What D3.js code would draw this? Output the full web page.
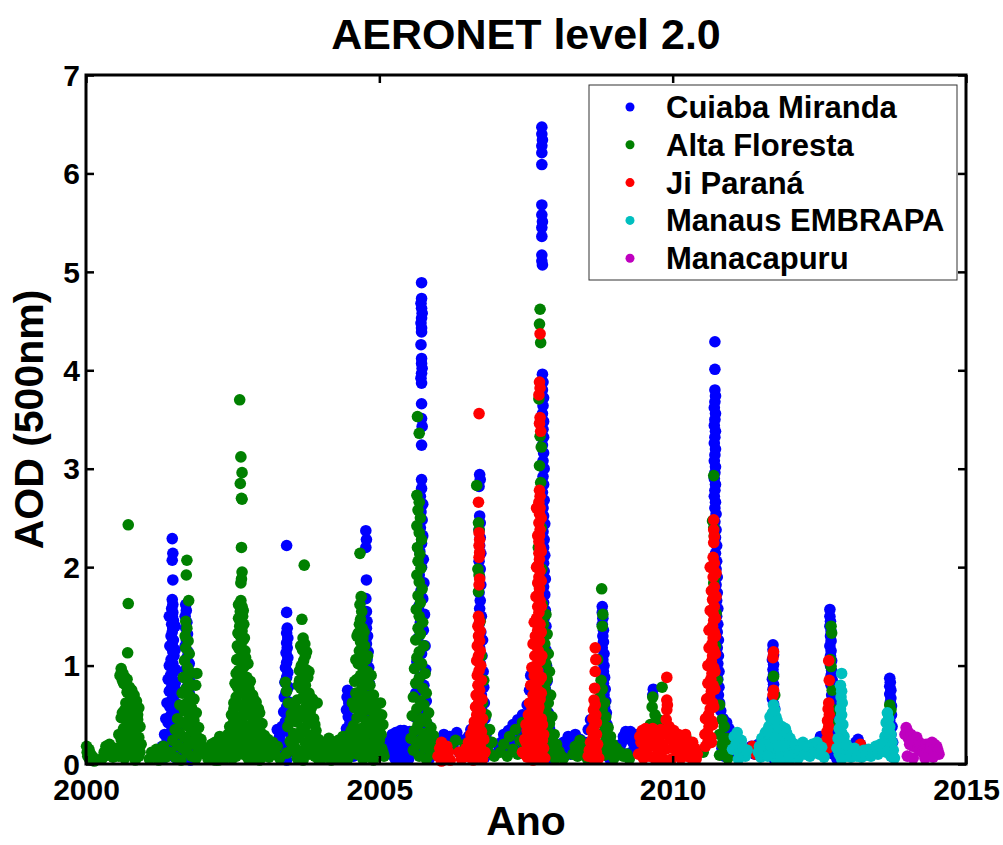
<!DOCTYPE html>
<html>
<head>
<meta charset="utf-8">
<script src="https://cdn.jsdelivr.net/npm/d3@7"></script>
<style>
  html, body { margin: 0; padding: 0; background: #fff; }
  svg { display: block; }
  text { font-family: "Liberation Sans", Arial, Helvetica, sans-serif; font-weight: bold; fill: #000; }
</style>
</head>
<body>
<svg id="chart" width="1003" height="845"></svg>
<script>
// AERONET level 2.0 aerosol optical depth (500 nm), daily observations per station.
// Each entry is [decimal year, AOD].

const xTicks = [2000, 2005, 2010, 2015];
const yTicks = [0, 1, 2, 3, 4, 5, 6, 7];
const stationNames = ["Cuiaba Miranda", "Alta Floresta", "Ji Paraná", "Manaus EMBRAPA", "Manacapuru"];

const cuiabaMiranda = [
  // 2001
  [2001.47,2.29],[2001.48,2.14],[2001.47,2.07],[2001.48,1.87],
  [2001.47,1.67],[2001.48,1.62],[2001.46,1.58],[2001.48,1.54],[2001.47,1.50],[2001.49,1.46],[2001.46,1.42],[2001.48,1.38],[2001.47,1.34],[2001.45,1.30],[2001.49,1.26],[2001.47,1.22],[2001.46,1.18],[2001.48,1.14],[2001.50,1.10],[2001.45,1.06],[2001.48,1.02],[2001.46,0.98],[2001.50,0.94],[2001.44,0.90],[2001.48,0.86],[2001.52,0.82],[2001.46,0.78],[2001.42,0.74],[2001.50,0.70],[2001.47,0.66],[2001.53,0.62],[2001.43,0.58],[2001.49,0.54],[2001.45,0.50],[2001.55,0.46],[2001.40,0.42],[2001.50,0.38],[2001.46,0.34],[2001.56,0.30],[2001.38,0.26],[2001.52,0.22],[2001.44,0.18],[2001.58,0.14],[2001.36,0.11],[2001.48,0.08],[2001.32,0.06],[2001.60,0.05],
  [2001.42,1.50],[2001.52,1.40],[2001.43,1.20],[2001.52,1.16],[2001.42,1.00],[2001.53,0.96],[2001.40,0.86],[2001.55,0.74],[2001.38,0.62],[2001.57,0.56],[2001.36,0.46],[2001.58,0.40],[2001.34,0.30],[2001.60,0.26],[2001.30,0.18],[2001.62,0.16],[2001.40,0.10],[2001.54,0.06],
  [2001.70,1.62],[2001.71,1.56],[2001.69,1.50],[2001.72,1.44],[2001.70,1.38],[2001.73,1.32],[2001.71,1.26],[2001.69,1.20],[2001.74,1.14],[2001.72,1.08],[2001.76,1.02],[2001.70,0.96],[2001.74,0.90],[2001.77,0.84],[2001.72,0.78],[2001.76,0.72],[2001.79,0.66],[2001.74,0.60],[2001.78,0.54],[2001.81,0.48],[2001.76,0.42],[2001.80,0.36],[2001.83,0.30],[2001.78,0.24],[2001.82,0.18],[2001.74,0.12],[2001.84,0.07],[2001.78,0.04],
  // 2003
  [2003.42,2.22],[2003.42,1.54],
  [2003.43,1.38],[2003.42,1.33],[2003.44,1.28],[2003.42,1.23],[2003.43,1.18],[2003.41,1.13],[2003.44,1.08],[2003.42,1.03],[2003.40,0.98],[2003.44,0.93],[2003.42,0.88],[2003.39,0.83],[2003.45,0.78],[2003.41,0.73],[2003.38,0.68],[2003.46,0.63],[2003.42,0.58],[2003.37,0.53],[2003.47,0.48],[2003.40,0.43],[2003.34,0.38],[2003.26,0.35],[2003.44,0.33],[2003.30,0.28],[2003.50,0.26],[2003.22,0.22],[2003.38,0.20],[2003.54,0.16],[2003.28,0.14],[2003.46,0.12],[2003.60,0.10],[2003.34,0.07],[2003.64,0.05],[2003.42,0.04],
  // 2004
  [2004.77,2.37],[2004.78,2.28],[2004.77,2.20],[2004.78,1.87],[2004.77,1.68],[2004.78,1.55],
  [2004.79,1.45],[2004.78,1.38],[2004.80,1.30],[2004.78,1.22],[2004.81,1.14],[2004.79,1.06],[2004.82,0.98],[2004.80,0.90],[2004.83,0.82],[2004.78,0.74],[2004.84,0.66],[2004.80,0.58],[2004.86,0.50],[2004.82,0.42],[2004.88,0.34],[2004.84,0.26],[2004.90,0.18],[2004.86,0.10],
  [2004.46,0.75],[2004.45,0.68],[2004.48,0.62],[2004.44,0.55],[2004.47,0.48],[2004.50,0.42],[2004.44,0.36],[2004.52,0.30],[2004.46,0.25],[2004.54,0.20],[2004.42,0.16],[2004.50,0.12],[2004.56,0.08],
  // 2005
  [2005.12,0.10],[2005.16,0.18],[2005.20,0.26],[2005.24,0.14],[2005.28,0.32],[2005.32,0.22],[2005.36,0.34],[2005.40,0.12],[2005.44,0.28],[2005.48,0.20],[2005.52,0.33],[2005.26,0.06],[2005.38,0.08],[2005.46,0.05],
  [2005.14,0.22],[2005.18,0.12],[2005.22,0.30],[2005.26,0.20],[2005.30,0.14],[2005.34,0.28],[2005.38,0.20],[2005.42,0.34],[2005.46,0.16],[2005.50,0.26],[2005.54,0.12],[2005.30,0.06],[2005.42,0.06],[2005.50,0.05],
  [2005.72,4.89],[2005.72,4.73],[2005.71,4.68],[2005.72,4.63],[2005.73,4.58],[2005.72,4.53],[2005.71,4.48],[2005.72,4.43],[2005.72,4.39],[2005.71,4.26],[2005.72,4.12],[2005.72,4.07],[2005.73,4.02],[2005.72,3.97],[2005.71,3.92],[2005.72,3.87],[2005.72,3.66],[2005.72,3.51],[2005.73,3.43],[2005.72,3.24],[2005.72,2.89],
  [2005.72,2.80],[2005.70,2.72],[2005.74,2.64],[2005.71,2.56],[2005.73,2.48],[2005.70,2.40],[2005.74,2.32],[2005.72,2.24],[2005.69,2.16],[2005.75,2.08],[2005.72,2.00],[2005.68,1.92],[2005.76,1.84],[2005.71,1.76],[2005.74,1.68],[2005.67,1.60],[2005.77,1.52],[2005.70,1.44],[2005.75,1.36],[2005.66,1.28],[2005.78,1.20],[2005.72,1.12],[2005.64,1.04],[2005.79,0.96],[2005.69,0.88],[2005.76,0.80],[2005.62,0.72],[2005.80,0.64],[2005.70,0.56],[2005.60,0.48],[2005.82,0.40],[2005.74,0.34],[2005.58,0.28],[2005.84,0.22],[2005.66,0.16],[2005.78,0.10],[2005.86,0.06],
  // 2006
  [2005.92,0.15],[2005.96,0.26],[2006.00,0.10],[2006.04,0.22],[2006.10,0.30],[2006.16,0.14],[2006.20,0.28],[2006.26,0.20],[2006.32,0.32],[2006.36,0.12],[2006.42,0.24],[2006.48,0.18],[2006.52,0.28],[2006.56,0.35],
  [2006.71,2.94],[2006.72,2.89],[2006.70,2.82],[2006.71,2.52],[2006.72,2.45],[2006.70,2.38],[2006.72,2.30],[2006.71,2.22],[2006.73,2.14],[2006.70,2.06],[2006.72,1.98],[2006.71,1.90],[2006.73,1.82],[2006.70,1.74],[2006.72,1.66],[2006.71,1.58],[2006.74,1.50],[2006.70,1.42],[2006.73,1.34],[2006.76,1.26],[2006.71,1.18],[2006.75,1.10],[2006.72,1.02],[2006.77,0.94],[2006.73,0.86],[2006.78,0.78],[2006.74,0.70],[2006.79,0.62],[2006.75,0.54],[2006.80,0.46],[2006.76,0.38],[2006.82,0.30],[2006.78,0.22],[2006.84,0.14],[2006.80,0.07],
  // 2007
  [2007.04,0.15],[2007.08,0.22],[2007.12,0.30],[2007.16,0.18],[2007.20,0.34],[2007.24,0.26],[2007.28,0.40],[2007.32,0.20],[2007.36,0.45],[2007.40,0.32],[2007.44,0.50],[2007.48,0.38],[2007.52,0.60],[2007.56,0.75],[2007.58,0.90],
  [2007.77,6.47],[2007.77,6.40],[2007.78,6.34],[2007.77,6.28],[2007.77,6.21],[2007.77,6.09],[2007.77,5.68],[2007.77,5.58],[2007.78,5.51],[2007.77,5.45],[2007.77,5.36],[2007.77,5.17],[2007.77,5.11],[2007.78,5.07],
  [2007.78,3.96],[2007.79,3.88],[2007.78,3.80],[2007.80,3.72],[2007.79,3.64],[2007.78,3.56],[2007.80,3.48],[2007.79,3.40],[2007.80,3.32],[2007.78,3.24],[2007.80,3.16],[2007.79,3.08],[2007.81,3.00],[2007.79,2.92],[2007.80,2.84],[2007.78,2.76],[2007.81,2.68],[2007.79,2.60],[2007.80,2.52],[2007.82,2.44],[2007.79,2.36],[2007.81,2.28],[2007.80,2.20],[2007.82,2.12],[2007.80,2.04],[2007.81,1.96],[2007.83,1.88],[2007.80,1.80],[2007.82,1.72],[2007.80,1.64],[2007.83,1.56],[2007.81,1.48],[2007.84,1.40],[2007.82,1.32],[2007.80,1.24],[2007.84,1.16],[2007.82,1.08],[2007.85,1.00],[2007.82,0.92],[2007.86,0.84],[2007.83,0.76],[2007.87,0.68],[2007.84,0.60],[2007.88,0.52],[2007.85,0.44],[2007.90,0.36],[2007.86,0.28],[2007.92,0.20],[2007.88,0.12],[2007.94,0.06],
  // 2008
  [2008.02,0.10],[2008.06,0.18],[2008.10,0.12],[2008.14,0.22],[2008.18,0.15],[2008.22,0.28],[2008.26,0.10],[2008.30,0.20],[2008.34,0.30],[2008.38,0.16],[2008.42,0.25],[2008.46,0.12],[2008.50,0.22],[2008.56,0.35],[2008.60,0.45],
  [2008.80,1.60],[2008.80,1.54],[2008.81,1.48],[2008.80,1.42],[2008.82,1.36],[2008.81,1.30],[2008.82,1.24],[2008.80,1.18],[2008.83,1.12],[2008.81,1.06],[2008.83,1.00],[2008.82,0.94],[2008.84,0.88],[2008.82,0.82],[2008.85,0.76],[2008.83,0.70],[2008.86,0.64],[2008.84,0.58],[2008.87,0.52],[2008.85,0.46],[2008.88,0.40],[2008.86,0.34],[2008.89,0.28],[2008.86,0.22],[2008.90,0.16],[2008.88,0.10],[2008.92,0.06],
  // 2009
  [2009.12,0.20],[2009.16,0.28],[2009.20,0.33],[2009.24,0.26],[2009.28,0.33],[2009.32,0.22],[2009.36,0.30],[2009.40,0.18],[2009.44,0.25],[2009.30,0.12],[2009.20,0.10],
  [2009.67,0.76],[2009.66,0.70],
  // 2010
  [2010.72,4.29],[2010.72,4.01],[2010.72,3.80],[2010.73,3.74],[2010.72,3.68],[2010.71,3.62],[2010.73,3.56],[2010.72,3.50],[2010.71,3.44],[2010.73,3.38],[2010.72,3.32],[2010.71,3.26],[2010.73,3.20],[2010.72,3.14],[2010.71,3.08],[2010.73,3.02],[2010.72,2.96],[2010.71,2.90],[2010.73,2.84],[2010.72,2.78],[2010.71,2.72],[2010.73,2.66],[2010.72,2.60],[2010.74,2.54],[2010.72,2.46],[2010.74,2.38],[2010.73,2.30],[2010.75,2.22],[2010.73,2.14],[2010.75,2.06],[2010.74,1.98],[2010.76,1.90],[2010.74,1.82],[2010.76,1.74],[2010.75,1.66],[2010.77,1.58],[2010.75,1.50],[2010.77,1.42],[2010.76,1.34],[2010.78,1.26],[2010.76,1.18],[2010.78,1.10],[2010.77,1.02],[2010.79,0.94],[2010.77,0.86],[2010.79,0.78],[2010.78,0.70],[2010.80,0.62],[2010.82,0.54],[2010.86,0.46],[2010.92,0.42],[2010.96,0.36],[2010.90,0.30],[2010.94,0.22],[2010.84,0.16],[2010.98,0.12],[2010.88,0.08],
  // 2011
  [2011.28,0.12],[2011.34,0.18],[2011.40,0.10],[2011.46,0.20],[2011.52,0.14],[2011.56,0.24],[2011.60,0.30],
  [2011.71,1.21],[2011.71,1.16],[2011.72,1.11],[2011.70,1.06],[2011.72,1.01],[2011.71,0.96],[2011.72,0.91],[2011.70,0.86],[2011.72,0.81],[2011.71,0.76],[2011.73,0.71],[2011.70,0.66],[2011.72,0.61],[2011.74,0.56],[2011.70,0.50],[2011.76,0.44],[2011.68,0.38],[2011.74,0.30],[2011.66,0.22],[2011.78,0.14],[2011.72,0.06],
  // 2012
  [2012.10,0.08],[2012.30,0.15],[2012.44,0.20],[2012.52,0.28],
  [2012.68,1.57],[2012.68,1.50],[2012.69,1.45],[2012.68,1.40],[2012.70,1.35],[2012.69,1.30],[2012.70,1.25],[2012.68,1.20],[2012.70,1.15],[2012.69,1.10],[2012.71,1.05],[2012.69,1.00],[2012.71,0.95],[2012.70,0.90],[2012.72,0.85],[2012.70,0.80],[2012.73,0.75],[2012.71,0.70],[2012.74,0.64],[2012.72,0.58],[2012.75,0.50],[2012.72,0.42],[2012.76,0.34],[2012.73,0.26],[2012.78,0.18],[2012.74,0.10],[2012.80,0.05],
  // 2013
  [2013.12,0.22],[2013.16,0.25],[2013.20,0.20],[2013.24,0.16],[2013.30,0.12],
  [2013.70,0.87],[2013.71,0.83],[2013.70,0.79],[2013.72,0.75],[2013.70,0.71],[2013.72,0.67],[2013.71,0.63],[2013.73,0.59],[2013.71,0.55],[2013.73,0.50],[2013.70,0.44],[2013.74,0.38],[2013.72,0.30],[2013.75,0.22],[2013.70,0.14],[2013.76,0.07]
];

const altaFloresta = [
  // 2000
  [2000.01,0.18],[2000.02,0.12],[2000.03,0.08],[2000.05,0.15],[2000.06,0.05],[2000.08,0.10],[2000.10,0.04],[2000.12,0.07],[2000.14,0.03],
  [2000.28,0.06],[2000.31,0.12],[2000.34,0.18],[2000.37,0.09],[2000.40,0.20],[2000.43,0.14],[2000.46,0.07],[2000.49,0.16],[2000.51,0.10],
  [2000.72,2.43],[2000.72,1.63],[2000.71,1.13],
  [2000.60,0.97],[2000.63,0.92],[2000.66,0.88],[2000.62,0.85],[2000.68,0.80],[2000.74,0.78],[2000.70,0.73],[2000.78,0.75],[2000.82,0.70],[2000.76,0.66],[2000.86,0.64],[2000.72,0.60],[2000.80,0.58],[2000.90,0.57],[2000.66,0.55],[2000.84,0.52],[2000.74,0.50],[2000.60,0.47],[2000.88,0.45],[2000.78,0.42],[2000.70,0.40],[2000.92,0.38],[2000.64,0.36],[2000.84,0.33],[2000.56,0.30],[2000.74,0.30],[2000.90,0.27],[2000.60,0.25],[2000.80,0.24],[2000.68,0.21],[2000.94,0.20],[2000.58,0.17],[2000.86,0.16],[2000.72,0.14],[2000.62,0.11],[2000.78,0.10],[2000.90,0.08],[2000.66,0.06],[2000.84,0.04],
  [2000.58,0.90],[2000.64,0.82],[2000.70,0.86],[2000.76,0.70],[2000.80,0.64],[2000.68,0.62],[2000.88,0.50],[2000.62,0.52],[2000.72,0.44],[2000.82,0.38],[2000.66,0.30],[2000.86,0.22],[2000.76,0.18],[2000.92,0.12],[2000.56,0.08],
  // 2001
  [2001.08,0.05],[2001.12,0.12],[2001.16,0.08],[2001.20,0.15],[2001.24,0.04],[2001.28,0.10],[2001.32,0.18],[2001.36,0.07],
  [2001.72,2.07],[2001.71,1.92],[2001.75,1.66],[2001.89,0.92],[2001.87,0.80],
  [2001.70,1.45],[2001.72,1.38],[2001.69,1.30],[2001.74,1.25],[2001.70,1.18],[2001.76,1.12],[2001.68,1.05],[2001.73,0.98],[2001.78,0.93],[2001.66,0.88],[2001.74,0.84],[2001.80,0.80],[2001.70,0.76],[2001.64,0.72],[2001.77,0.69],[2001.84,0.66],[2001.72,0.62],[2001.60,0.60],[2001.80,0.57],[2001.68,0.54],[2001.88,0.52],[2001.76,0.49],[2001.56,0.46],[2001.84,0.44],[2001.64,0.42],[2001.72,0.39],[2001.92,0.37],[2001.52,0.35],[2001.80,0.33],[2001.60,0.31],[2001.88,0.29],[2001.68,0.27],[2001.96,0.25],[2001.48,0.24],[2001.76,0.22],[2001.84,0.20],[2001.56,0.19],[2002.00,0.17],[2001.64,0.16],[2001.92,0.14],[2001.44,0.12],[2001.72,0.12],[2002.04,0.10],[2001.80,0.08],[2001.52,0.07],[2001.88,0.06],[2001.62,0.04],[2002.08,0.05],
  // 2002
  [2002.12,0.08],[2002.16,0.15],[2002.20,0.22],[2002.24,0.10],[2002.28,0.28],[2002.32,0.16],[2002.36,0.05],[2002.40,0.24],[2002.44,0.12],[2002.48,0.32],[2002.20,0.04],[2002.30,0.07],[2002.52,0.45],[2002.45,0.38],
  [2002.14,0.20],[2002.18,0.10],[2002.22,0.15],[2002.26,0.04],[2002.34,0.22],[2002.38,0.14],[2002.42,0.30],[2002.46,0.20],[2002.50,0.06],
  [2002.62,3.70],[2002.64,3.12],[2002.66,2.96],[2002.63,2.85],[2002.65,2.70],[2002.66,2.69],[2002.65,2.20],[2002.66,1.95],[2002.65,1.88],[2002.64,1.84],
  [2002.64,1.66],[2002.66,1.60],[2002.63,1.55],[2002.67,1.50],[2002.64,1.45],[2002.62,1.40],[2002.66,1.35],[2002.63,1.30],[2002.68,1.26],[2002.64,1.21],[2002.61,1.17],[2002.67,1.12],[2002.72,1.08],[2002.63,1.05],[2002.76,1.02],[2002.68,0.98],[2002.60,0.95],[2002.66,0.91],[2002.74,0.88],[2002.62,0.85],[2002.70,0.81],[2002.58,0.78],[2002.78,0.76],[2002.66,0.72],[2002.84,0.70],[2002.56,0.68],[2002.74,0.65],[2002.90,0.63],[2002.62,0.60],[2002.82,0.58],[2002.52,0.56],[2002.70,0.54],[2002.96,0.52],[2002.78,0.50],[2002.58,0.47],[2002.88,0.45],[2002.66,0.43],[2003.00,0.41],[2002.50,0.39],[2002.76,0.38],[2002.92,0.35],[2002.60,0.33],[2002.84,0.31],[2003.04,0.29],[2002.70,0.27],[2002.54,0.25],[2002.96,0.24],[2002.80,0.22],[2002.64,0.20],[2003.08,0.18],[2002.88,0.17],[2002.58,0.15],[2002.74,0.13],[2003.00,0.12],[2002.68,0.10],[2002.92,0.08],[2003.12,0.07],[2002.82,0.05],
  [2002.60,1.62],[2002.68,1.56],[2002.60,1.48],[2002.69,1.42],[2002.59,1.33],[2002.70,1.28],[2002.58,1.20],[2002.71,1.15],[2002.57,1.06],[2002.70,1.00],[2002.56,0.92],[2002.80,0.84],[2002.54,0.82],[2002.72,0.74],[2002.86,0.66],[2002.52,0.62],[2002.66,0.58],[2002.94,0.56],[2002.48,0.50],[2002.62,0.48],[2002.84,0.42],[2002.70,0.34],[2002.98,0.32],[2002.46,0.28],[2002.76,0.24],[2002.90,0.20],[2002.50,0.18],[2002.66,0.14],[2002.84,0.12],[2003.06,0.10],[2002.56,0.08],[2002.76,0.06],[2002.96,0.04],
  // 2003
  [2003.14,0.15],[2003.18,0.22],[2003.22,0.10],[2003.26,0.18],[2003.30,0.06],[2003.10,0.25],
  [2003.72,2.02],[2003.68,1.47],[2003.94,0.62],
  [2003.70,1.28],[2003.73,1.22],[2003.69,1.16],[2003.74,1.10],[2003.71,1.05],[2003.67,1.00],[2003.75,0.96],[2003.70,0.92],[2003.78,0.88],[2003.64,0.85],[2003.40,0.83],[2003.74,0.80],[2003.66,0.77],[2003.42,0.74],[2003.80,0.72],[2003.70,0.68],[2003.60,0.65],[2003.45,0.62],[2003.76,0.60],[2003.84,0.57],[2003.66,0.54],[2003.50,0.51],[2003.72,0.48],[2003.88,0.46],[2003.58,0.43],[2003.78,0.41],[2003.44,0.38],[2003.68,0.36],[2003.92,0.34],[2003.54,0.31],[2003.82,0.29],[2003.62,0.27],[2003.96,0.25],[2003.48,0.23],[2003.74,0.21],[2003.86,0.19],[2003.56,0.17],[2004.00,0.15],[2003.66,0.13],[2003.42,0.11],[2003.80,0.10],[2003.90,0.08],[2003.60,0.06],[2003.70,0.04],
  [2003.66,1.20],[2003.76,1.14],[2003.64,0.95],[2003.80,0.94],[2003.62,0.80],[2003.72,0.74],[2003.86,0.66],[2003.56,0.58],[2003.82,0.52],[2003.62,0.46],[2003.48,0.44],[2003.90,0.40],[2003.74,0.32],[2003.58,0.26],[2003.94,0.20],[2003.76,0.16],[2003.50,0.14],[2003.86,0.12],[2003.64,0.08],[2003.96,0.05],
  // 2004
  [2004.04,0.12],[2004.08,0.18],[2004.12,0.07],[2004.16,0.14],[2004.20,0.09],[2004.24,0.20],[2004.28,0.05],[2004.32,0.13],[2004.36,0.17],[2004.40,0.08],[2004.44,0.22],[2004.48,0.11],
  [2004.02,0.06],[2004.06,0.22],[2004.10,0.14],[2004.14,0.26],[2004.18,0.04],[2004.22,0.12],[2004.26,0.16],[2004.30,0.24],[2004.34,0.06],[2004.38,0.28],[2004.42,0.14],[2004.46,0.05],[2004.50,0.30],[2004.54,0.18],
  [2004.67,2.14],
  [2004.69,1.70],[2004.67,1.62],[2004.70,1.55],[2004.68,1.47],[2004.66,1.42],[2004.71,1.38],[2004.64,1.33],[2004.72,1.28],[2004.68,1.24],[2004.75,1.20],[2004.66,1.15],[2004.70,1.10],[2004.77,1.06],[2004.64,1.02],[2004.72,0.98],[2004.80,0.94],[2004.68,0.90],[2004.62,0.86],[2004.76,0.83],[2004.84,0.80],[2004.70,0.76],[2004.60,0.72],[2004.80,0.69],[2004.66,0.66],[2004.88,0.63],[2004.74,0.60],[2004.58,0.57],[2004.84,0.55],[2004.70,0.52],[2004.92,0.49],[2004.62,0.47],[2004.78,0.44],[2004.88,0.41],[2004.56,0.39],[2004.72,0.37],[2004.96,0.35],[2004.82,0.32],[2004.64,0.30],[2004.92,0.28],[2004.74,0.26],[2005.00,0.24],[2004.58,0.22],[2004.86,0.20],[2004.68,0.18],[2005.04,0.16],[2004.78,0.14],[2004.94,0.12],[2004.62,0.10],[2005.08,0.08],[2004.84,0.07],[2004.72,0.05],
  [2004.62,1.30],[2004.74,1.34],[2004.60,1.06],[2004.80,1.10],[2004.58,0.84],[2004.86,0.90],[2004.90,0.70],[2004.54,0.62],[2004.94,0.58],[2004.66,0.50],[2004.98,0.44],[2004.52,0.34],[2004.86,0.36],[2005.02,0.30],[2004.70,0.22],[2004.54,0.14],[2004.98,0.18],[2004.80,0.10],[2004.90,0.04],[2005.06,0.12],
  [2005.02,0.62],[2005.04,0.50],[2005.06,0.40],[2005.03,0.30],
  // 2005
  [2005.65,3.53],[2005.68,3.36],
  [2005.64,2.73],[2005.68,2.66],[2005.66,2.58],[2005.70,2.50],[2005.64,2.42],[2005.68,2.35],[2005.72,2.28],[2005.65,2.20],[2005.69,2.13],[2005.66,2.06],[2005.71,1.99],[2005.64,1.92],[2005.68,1.85],[2005.73,1.78],[2005.66,1.71],[2005.70,1.64],[2005.63,1.57],[2005.68,1.50],[2005.74,1.44],[2005.66,1.38],[2005.70,1.32],[2005.62,1.26],[2005.76,1.20],[2005.68,1.14],[2005.64,1.08],[2005.72,1.02],[2005.60,0.97],[2005.78,0.92],[2005.68,0.87],[2005.62,0.82],[2005.74,0.77],[2005.80,0.72],[2005.58,0.68],[2005.70,0.64],[2005.76,0.60],[2005.64,0.56],[2005.84,0.52],[2005.56,0.49],[2005.72,0.46],[2005.80,0.43],[2005.66,0.40],[2005.88,0.37],[2005.60,0.34],[2005.76,0.31],[2005.92,0.29],[2005.54,0.26],[2005.70,0.24],[2005.84,0.22],[2005.64,0.20],[2005.96,0.18],[2005.78,0.16],[2005.58,0.14],[2006.00,0.12],[2005.88,0.10],[2005.68,0.08],[2006.06,0.07],[2005.80,0.05],[2006.12,0.06],
  // 2006
  [2006.22,0.18],[2006.30,0.24],[2006.38,0.12],[2006.46,0.20],[2006.52,0.15],
  [2006.66,2.83],[2006.69,2.45],[2006.70,2.38],[2006.68,1.98],[2006.70,1.92],[2006.69,1.75],[2006.72,1.45],[2006.74,1.10],[2006.78,0.85],[2006.76,0.62],[2006.82,0.50],[2006.74,0.42],[2006.88,0.35],[2006.80,0.28],[2006.92,0.22],[2006.76,0.16],[2006.86,0.12],[2006.96,0.08],[2006.58,0.20],[2006.54,0.10],
  // 2007
  [2007.06,0.12],[2007.12,0.20],[2007.18,0.08],[2007.22,0.28],[2007.28,0.15],[2007.32,0.35],[2007.36,0.10],[2007.40,0.24],[2007.44,0.42],[2007.48,0.18],[2007.52,0.30],
  [2007.74,4.62],[2007.73,4.47],[2007.75,4.28],[2007.72,3.71],[2007.74,3.33],[2007.76,3.22],[2007.73,3.03],[2007.75,2.86],[2007.72,2.62],[2007.76,2.40],[2007.71,2.20],[2007.77,1.98],[2007.73,1.80],[2007.78,1.62],[2007.84,1.52],[2007.80,1.42],[2007.86,1.32],[2007.82,1.22],[2007.88,1.12],[2007.84,1.02],[2007.90,0.94],[2007.86,0.86],[2007.82,0.78],[2007.92,0.70],[2007.88,0.62],[2007.84,0.55],[2007.94,0.48],[2007.90,0.41],[2007.86,0.35],[2007.98,0.30],[2007.92,0.25],[2008.02,0.20],[2007.88,0.16],[2008.06,0.13],[2007.96,0.10],[2008.10,0.08],[2008.00,0.05],[2008.14,0.06],
  // 2008
  [2008.30,0.10],[2008.34,0.18],[2008.38,0.08],[2008.42,0.24],[2008.46,0.14],[2008.50,0.20],[2008.54,0.06],
  [2008.79,1.78],[2008.81,1.52],[2008.80,1.40],[2008.72,1.06],[2008.78,0.85],[2008.80,0.76],[2008.76,0.68],[2008.84,0.62],[2008.80,0.55],[2008.86,0.48],[2008.78,0.42],[2008.90,0.37],[2008.82,0.32],[2008.94,0.28],[2008.86,0.24],[2008.98,0.20],[2008.76,0.18],[2009.04,0.16],[2008.90,0.13],[2009.10,0.12],[2008.84,0.09],[2009.16,0.08],[2009.00,0.06],[2009.22,0.10],[2009.26,0.05],
  // 2009
  [2009.65,0.58],[2009.66,0.68],[2009.82,0.78],[2009.70,0.50],[2009.76,0.45],[2009.62,0.40],[2009.86,0.42],[2009.58,0.30],[2009.90,0.35],[2010.12,0.27],[2010.18,0.22],[2010.24,0.25],[2010.30,0.20],[2010.36,0.15],[2009.50,0.12],
  // 2010
  [2010.70,2.93],[2010.68,2.47],[2010.70,2.40],[2010.71,2.32],[2010.72,1.90],[2010.70,1.84],[2010.74,1.53],[2010.73,1.20],[2010.76,0.85],[2010.80,0.60],[2010.84,0.45],[2010.88,0.38],[2010.80,0.30],[2010.92,0.26],[2010.84,0.20],[2010.96,0.16],[2010.88,0.12],[2010.80,0.09],[2010.94,0.06],[2010.52,0.12],
  // 2011-2013
  [2011.72,0.89],[2011.74,0.70],
  [2012.70,1.40],[2012.71,1.33],[2012.69,1.06],[2012.70,0.99],[2012.72,0.75],[2012.74,0.55],[2012.76,0.40],
  [2013.70,0.60],[2013.72,0.55],[2013.68,0.50]
];

const jiParana = [
  // 2006
  [2006.00,0.08],[2006.03,0.16],[2006.06,0.22],[2006.09,0.10],[2006.12,0.05],[2006.15,0.18],[2006.18,0.12],[2006.21,0.04],[2006.06,0.03],
  [2006.70,3.56],[2006.69,2.66],[2006.70,2.35],[2006.71,2.28],[2006.70,2.22],[2006.71,2.15],[2006.70,2.10],[2006.71,1.88],[2006.70,1.82],
  [2006.69,1.50],[2006.71,1.45],[2006.68,1.40],[2006.72,1.35],[2006.69,1.30],[2006.71,1.25],[2006.67,1.20],[2006.72,1.15],[2006.69,1.10],[2006.66,1.05],[2006.73,1.00],[2006.70,0.95],[2006.67,0.90],[2006.74,0.85],[2006.68,0.80],[2006.71,0.75],[2006.65,0.70],[2006.75,0.66],[2006.69,0.62],[2006.64,0.58],[2006.72,0.54],[2006.66,0.50],[2006.76,0.46],[2006.62,0.43],[2006.70,0.40],[2006.60,0.36],[2006.74,0.33],[2006.56,0.30],[2006.66,0.27],[2006.78,0.25],[2006.52,0.22],[2006.62,0.20],[2006.72,0.18],[2006.48,0.16],[2006.58,0.14],[2006.80,0.12],[2006.44,0.10],[2006.68,0.09],[2006.54,0.07],[2006.40,0.05],[2006.76,0.05],[2006.36,0.12],[2006.60,0.04],
  // 2007
  [2007.44,0.12],[2007.48,0.25],[2007.50,0.40],
  [2007.74,4.37],[2007.73,3.88],[2007.74,3.82],[2007.72,3.75],[2007.74,3.52],[2007.73,3.46],[2007.75,3.38],
  [2007.73,2.78],[2007.74,2.72],[2007.72,2.66],[2007.74,2.60],[2007.73,2.54],[2007.72,2.45],[2007.74,2.38],[2007.73,2.32],[2007.72,2.26],[2007.74,2.20],[2007.72,2.14],[2007.73,2.08],[2007.71,2.02],[2007.74,1.96],[2007.72,1.90],[2007.70,1.84],[2007.73,1.78],[2007.71,1.72],[2007.74,1.66],[2007.70,1.60],[2007.72,1.54],[2007.68,1.48],[2007.74,1.42],[2007.70,1.36],[2007.66,1.30],[2007.73,1.25],[2007.68,1.20],[2007.71,1.15],[2007.65,1.10],[2007.74,1.05],[2007.67,1.00],[2007.70,0.95],[2007.64,0.90],[2007.73,0.85],[2007.66,0.80],[2007.70,0.75],[2007.62,0.70],[2007.74,0.66],[2007.66,0.62],[2007.60,0.58],[2007.70,0.54],[2007.64,0.50],[2007.76,0.46],[2007.58,0.42],[2007.68,0.39],[2007.62,0.36],[2007.74,0.33],[2007.56,0.30],[2007.66,0.27],[2007.78,0.24],[2007.60,0.22],[2007.70,0.19],[2007.54,0.17],[2007.64,0.15],[2007.76,0.13],[2007.58,0.11],[2007.68,0.09],[2007.52,0.07],[2007.72,0.05],[2007.62,0.04],
  [2007.68,2.60],[2007.76,2.50],[2007.70,2.32],[2007.76,2.16],[2007.68,2.00],[2007.76,1.86],[2007.67,1.70],[2007.76,1.60],[2007.64,1.44],[2007.76,1.34],[2007.62,1.22],[2007.77,1.10],[2007.60,0.98],[2007.76,0.88],[2007.58,0.80],[2007.76,0.72],[2007.56,0.62],[2007.72,0.58],[2007.54,0.50],[2007.78,0.40],[2007.52,0.34],[2007.80,0.30],[2007.50,0.22],[2007.80,0.16],[2007.48,0.10],[2007.82,0.06],
  // 2008
  [2008.68,1.18],[2008.69,1.06],[2008.68,0.94],[2008.67,0.77],[2008.66,0.65],[2008.68,0.60],[2008.65,0.55],[2008.69,0.50],[2008.64,0.46],[2008.70,0.42],[2008.66,0.38],[2008.62,0.34],[2008.70,0.30],[2008.64,0.26],[2008.60,0.22],[2008.72,0.20],[2008.66,0.17],[2008.58,0.14],[2008.70,0.12],[2008.62,0.10],[2008.56,0.08],[2008.74,0.06],[2008.66,0.05],
  // 2009-2010
  [2009.42,0.10],[2009.46,0.22],[2009.48,0.34],[2009.52,0.15],[2009.54,0.36],[2009.58,0.26],[2009.60,0.08],[2009.64,0.30],[2009.68,0.18],[2009.72,0.34],[2009.76,0.12],[2009.78,0.28],[2009.82,0.20],[2009.86,0.32],[2009.89,0.45],[2009.90,0.55],[2009.91,0.60],[2009.90,0.65],[2009.90,0.88],[2009.94,0.38],[2009.96,0.25],[2010.00,0.16],[2010.04,0.28],[2010.08,0.10],[2010.12,0.20],[2010.16,0.12],[2010.20,0.24],[2010.24,0.08],[2010.28,0.16],[2010.32,0.06],[2010.36,0.12],[2010.40,0.05],[2009.84,0.05],[2009.70,0.05],[2009.98,0.05],
  [2009.44,0.28],[2009.50,0.06],[2009.56,0.18],[2009.62,0.22],[2009.66,0.36],[2009.70,0.26],[2009.74,0.08],[2009.80,0.35],[2009.88,0.15],[2009.92,0.30],[2010.02,0.34],[2010.06,0.20],[2010.10,0.30],[2010.14,0.06],[2010.18,0.16],[2010.22,0.30],[2010.26,0.20],[2010.30,0.10],[2010.34,0.22],[2010.38,0.16],[2010.42,0.10],
  // 2010
  [2010.70,2.48],[2010.70,2.38],[2010.71,2.31],[2010.70,2.25],[2010.69,2.10],[2010.71,2.04],[2010.70,1.97],[2010.69,1.90],[2010.71,1.80],[2010.70,1.74],[2010.68,1.67],[2010.71,1.60],[2010.69,1.53],[2010.70,1.46],[2010.68,1.40],[2010.71,1.34],[2010.69,1.28],[2010.67,1.22],[2010.70,1.16],[2010.68,1.10],[2010.66,1.04],[2010.70,0.98],[2010.67,0.92],[2010.65,0.86],[2010.69,0.80],[2010.66,0.74],[2010.63,0.68],[2010.68,0.62],[2010.64,0.56],[2010.61,0.50],[2010.66,0.44],[2010.62,0.38],[2010.59,0.32],[2010.65,0.27],[2010.60,0.22],[2010.56,0.18],
  [2010.64,2.00],[2010.74,1.94],[2010.66,1.76],[2010.74,1.70],[2010.64,1.56],[2010.73,1.48],[2010.62,1.36],[2010.73,1.30],[2010.62,1.18],[2010.73,1.12],[2010.60,1.00],[2010.72,0.94],[2010.60,0.82],[2010.72,0.76],[2010.58,0.66],[2010.70,0.58],[2010.56,0.46],[2010.68,0.40],[2010.55,0.30],[2010.66,0.22],
  // 2011
  [2011.30,0.12],[2011.36,0.18],[2011.42,0.10],[2011.48,0.15],[2011.72,1.14],[2011.71,1.08],[2011.72,0.75],[2011.71,0.70],[2011.70,0.48],
  // 2012-2013
  [2012.66,1.05],[2012.67,0.85],[2012.66,0.62],[2012.65,0.56],[2012.67,0.50],[2012.64,0.44],[2012.66,0.38],[2012.63,0.33],[2012.65,0.28],[2012.62,0.24],[2012.66,0.20],[2012.64,0.16],
  [2013.20,0.20]
];

const manausEmbrapa = [
  // 2011
  [2011.02,0.15],[2011.05,0.28],[2011.08,0.20],[2011.10,0.32],[2011.14,0.10],[2011.17,0.24],[2011.20,0.16],[2011.24,0.08],[2011.12,0.05],[2011.27,0.14],
  [2011.72,0.60],[2011.74,0.55],[2011.70,0.52],[2011.76,0.48],[2011.68,0.45],[2011.72,0.42],[2011.80,0.40],[2011.64,0.38],[2011.86,0.38],[2011.92,0.36],[2011.76,0.35],[2011.58,0.32],[2011.70,0.30],[2011.84,0.30],[2011.96,0.28],[2011.52,0.26],[2011.64,0.24],[2011.78,0.24],[2011.90,0.22],[2012.02,0.22],[2011.48,0.18],[2011.60,0.18],[2011.72,0.16],[2011.86,0.16],[2012.06,0.15],[2011.56,0.12],[2011.68,0.10],[2011.82,0.10],[2011.96,0.12],[2012.10,0.09],[2011.50,0.07],[2011.76,0.05],[2011.90,0.06],[2012.00,0.05],[2012.14,0.06],
  [2011.66,0.48],[2011.78,0.44],[2011.62,0.34],[2011.82,0.34],[2011.88,0.28],[2011.94,0.32],[2012.00,0.26],[2011.54,0.20],[2011.66,0.20],[2011.74,0.26],[2011.80,0.18],[2011.92,0.18],[2012.04,0.12],[2011.46,0.12],[2011.62,0.08],[2011.84,0.07],[2011.98,0.08],[2012.08,0.20],
  // 2012
  [2012.18,0.15],[2012.22,0.22],[2012.26,0.10],[2012.30,0.18],[2012.34,0.08],[2012.38,0.20],[2012.42,0.13],[2012.46,0.22],[2012.50,0.10],[2012.54,0.17],[2012.58,0.07],
  [2012.88,0.92],[2012.86,0.80],[2012.88,0.74],[2012.87,0.68],[2012.89,0.62],[2012.86,0.56],[2012.88,0.50],[2012.85,0.45],[2012.90,0.40],[2012.84,0.36],[2012.88,0.32],[2012.92,0.28],[2012.82,0.26],[2012.86,0.22],[2012.96,0.20],[2012.80,0.16],[2012.90,0.15],[2013.00,0.12],[2012.84,0.10],[2012.94,0.08],[2013.04,0.07],[2012.88,0.05],
  // 2013
  [2013.06,0.10],[2013.10,0.16],[2013.14,0.08],[2013.18,0.12],[2013.22,0.07],[2013.26,0.14],[2013.30,0.09],[2013.34,0.15],[2013.38,0.08],[2013.42,0.12],[2013.46,0.18],[2013.50,0.10],[2013.54,0.20],[2013.58,0.14],
  [2013.66,0.52],[2013.68,0.46],[2013.64,0.42],[2013.70,0.38],[2013.66,0.34],[2013.72,0.30],[2013.62,0.28],[2013.68,0.24],[2013.74,0.22],[2013.60,0.20],[2013.70,0.16],[2013.76,0.14],[2013.64,0.12],[2013.72,0.08],[2013.78,0.06]
];

const manacapuru = [
  [2013.96,0.30],[2013.98,0.37],[2014.00,0.34],[2014.02,0.26],[2014.04,0.20],[2014.06,0.30],[2014.08,0.24],[2014.10,0.18],[2014.12,0.26],[2014.14,0.21],[2014.16,0.27],[2014.18,0.16],[2014.20,0.22],[2014.22,0.14],[2014.24,0.20],[2014.26,0.12],[2014.28,0.18],[2014.30,0.15],[2014.32,0.20],[2014.34,0.11],[2014.36,0.16],[2014.38,0.13],[2014.40,0.19],[2014.42,0.22],[2014.44,0.15],[2014.46,0.20],[2014.48,0.12],[2014.50,0.18],[2014.52,0.14],[2014.54,0.10],[2014.00,0.08],[2014.10,0.06],[2014.30,0.06],[2014.44,0.07]
];

// Station colours, in drawing order (later stations are painted on top).
const stationColors = ["#0000ff", "#008000", "#ff0000", "#00bfbf", "#bf00bf"];
const stationData = [cuiabaMiranda, altaFloresta, jiParana, manausEmbrapa, manacapuru];

// ---- layout ----
const svg = d3.select("#chart");
const plot = { left: 86, right: 966, top: 75, bottom: 764 };

const x = d3.scaleLinear().domain([2000, 2015]).range([plot.left, plot.right]);
const y = d3.scaleLinear().domain([0, 7]).range([plot.bottom, plot.top]);

// Scatter points, one group per station
const pointsLayer = svg.append("g").attr("class", "points");
stationData.forEach((rows, i) => {
  pointsLayer.append("g")
    .attr("fill", stationColors[i])
    .selectAll("circle")
    .data(rows)
    .join("circle")
    .attr("cx", d => x(d[0]))
    .attr("cy", d => y(d[1]))
    .attr("r", 5.8);
});

// Axes with inward ticks on all four sides
const tickLen = 8;
const axisFont = "30px";

const xAxisBottom = d3.axisBottom(x).tickValues(xTicks).tickFormat(d3.format("d"))
  .tickSizeInner(-tickLen).tickSizeOuter(0).tickPadding(15);
const xAxisTop = d3.axisTop(x).tickValues(xTicks).tickFormat("")
  .tickSizeInner(-tickLen).tickSizeOuter(0);
const yAxisLeft = d3.axisLeft(y).tickValues(yTicks).tickFormat(d3.format("d"))
  .tickSizeInner(-tickLen).tickSizeOuter(0).tickPadding(6);
const yAxisRight = d3.axisRight(y).tickValues(yTicks).tickFormat("")
  .tickSizeInner(-tickLen).tickSizeOuter(0);

function styleAxis(g) {
  g.select(".domain").remove();
  g.selectAll(".tick line").attr("stroke", "#000").attr("stroke-width", 2.5);
  g.selectAll(".tick text")
    .attr("font-family", '"Liberation Sans", Arial, sans-serif')
    .attr("font-weight", "bold")
    .attr("font-size", axisFont)
    .attr("fill", "#000");
}

svg.append("g").attr("transform", `translate(0,${plot.bottom})`).call(xAxisBottom).call(styleAxis)
  .selectAll(".tick text").attr("dy", "0.71em");
svg.append("g").attr("transform", `translate(0,${plot.top})`).call(xAxisTop).call(styleAxis);
svg.append("g").attr("transform", `translate(${plot.left},0)`).call(yAxisLeft).call(styleAxis)
  .selectAll(".tick text").attr("dy", "0.34em");
svg.append("g").attr("transform", `translate(${plot.right},0)`).call(yAxisRight).call(styleAxis);

// Plot frame
svg.append("rect")
  .attr("x", plot.left).attr("y", plot.top)
  .attr("width", plot.right - plot.left).attr("height", plot.bottom - plot.top)
  .attr("fill", "none").attr("stroke", "#000").attr("stroke-width", 3);

// Title and axis labels
svg.append("text")
  .attr("x", (plot.left + plot.right) / 2).attr("y", 49)
  .attr("text-anchor", "middle").attr("font-size", "43px")
  .text("AERONET level 2.0");

svg.append("text")
  .attr("x", (plot.left + plot.right) / 2).attr("y", 835)
  .attr("text-anchor", "middle").attr("font-size", "41px")
  .text("Ano");

svg.append("text")
  .attr("transform", `translate(43,${(plot.top + plot.bottom) / 2}) rotate(-90)`)
  .attr("text-anchor", "middle").attr("font-size", "41px")
  .text("AOD (500nm)");

// Legend
const legend = { x: 589, y: 85, w: 368, h: 195, rowH: 37.8, first: 107 };
const lg = svg.append("g");
lg.append("rect")
  .attr("x", legend.x).attr("y", legend.y)
  .attr("width", legend.w).attr("height", legend.h)
  .attr("fill", "#fff").attr("stroke", "#333").attr("stroke-width", 1);
const rows = lg.selectAll("g.row").data(stationNames).join("g")
  .attr("class", "row")
  .attr("transform", (d, i) => `translate(0,${legend.first + i * legend.rowH})`);
rows.append("circle").attr("cx", 630).attr("cy", 0).attr("r", 4.5)
  .attr("fill", (d, i) => stationColors[i]);
rows.append("text").attr("x", 666).attr("y", 11)
  .attr("font-size", "31px").text(d => d);
</script>
</body>
</html>
